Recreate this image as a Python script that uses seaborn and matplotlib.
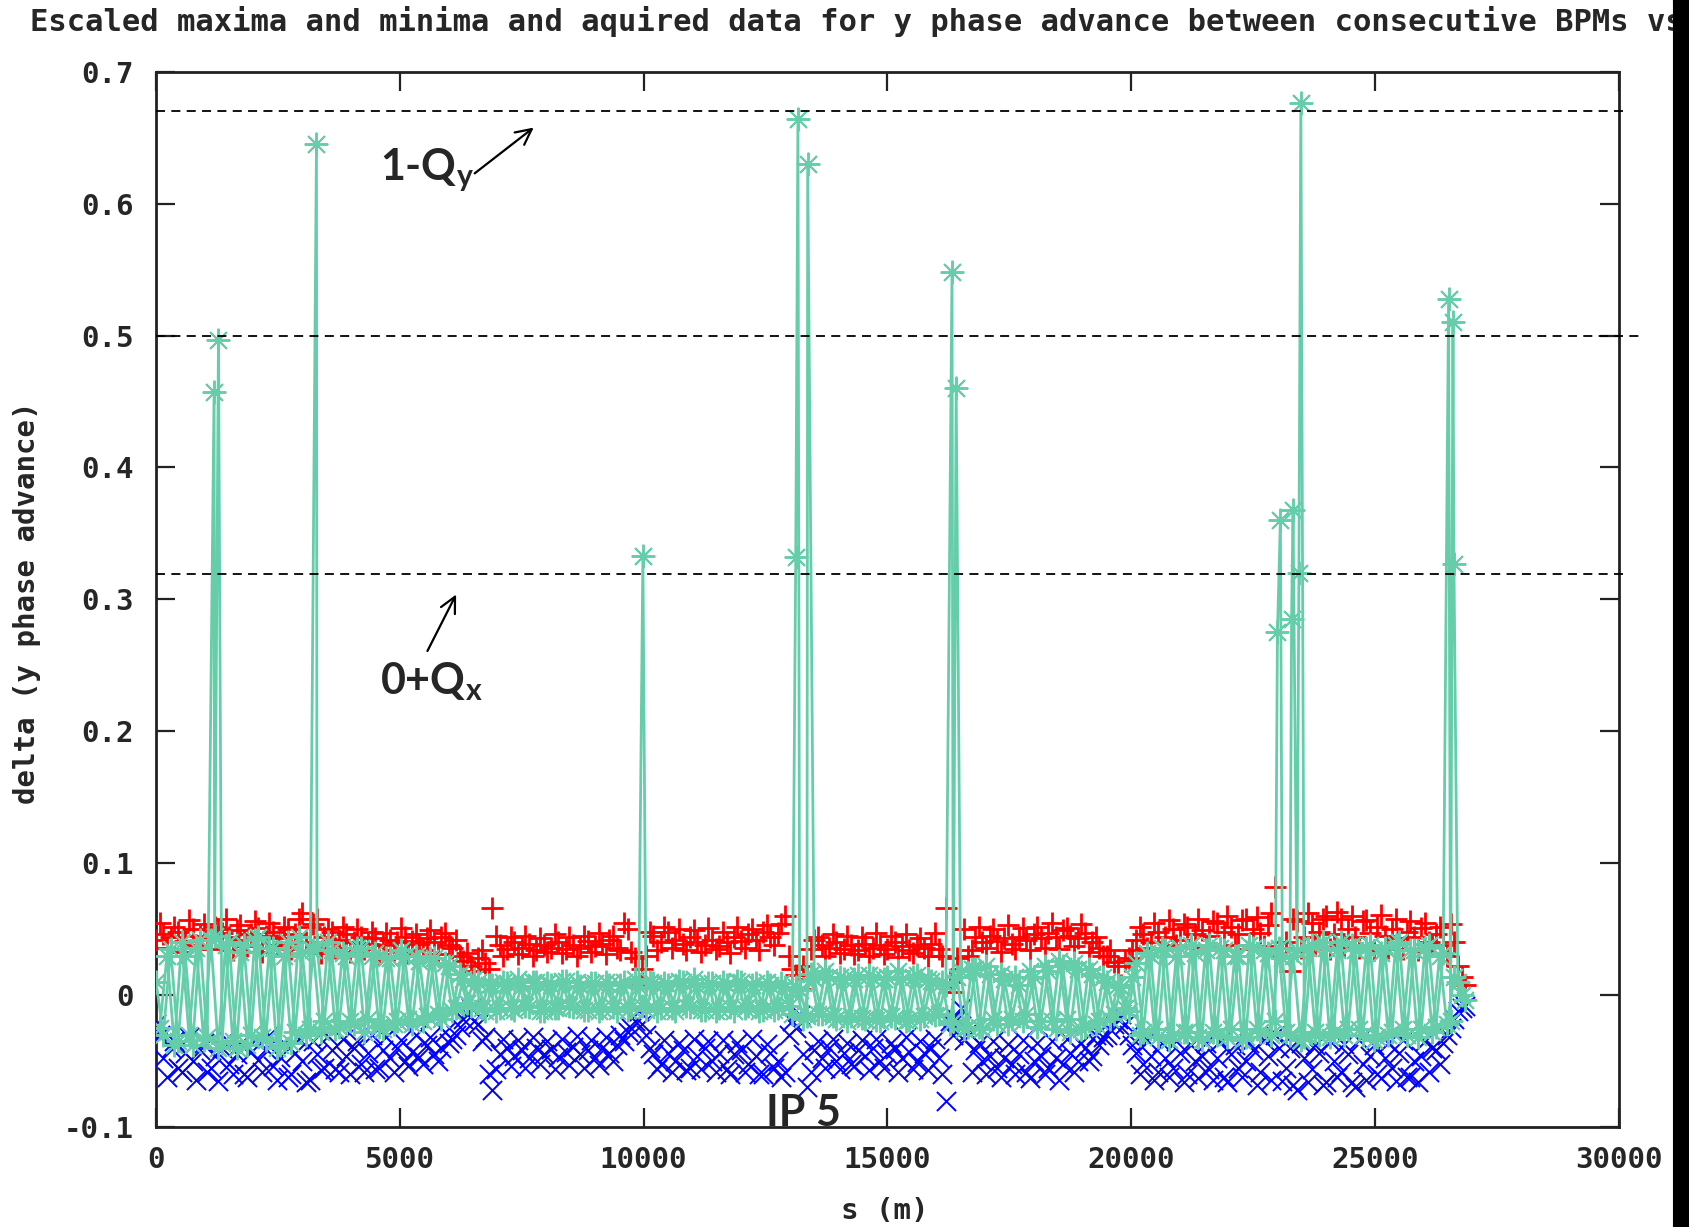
import numpy as np
import pandas as pd
import seaborn as sns
import matplotlib.pyplot as plt
from matplotlib.ticker import FuncFormatter

# BPM positions along the ring (m), first set
s_pos = [
    0, 150, 300, 450, 600, 750, 900, 1050, 1200, 1350, 1500, 1650,
    1800, 1950, 2100, 2250, 2400, 2550, 2700, 2850, 3000, 3150, 3300, 3450,
    3600, 3750, 3900, 4050, 4200, 4350, 4500, 4650, 4800, 4950, 5100, 5250,
    5400, 5550, 5700, 5850, 6000, 6150, 6300, 6450, 6600, 6750, 6900, 7050,
    7200, 7350, 7500, 7650, 7800, 7950, 8100, 8250, 8400, 8550, 8700, 8850,
    9000, 9150, 9300, 9450, 9600, 9750, 9900, 10050, 10200, 10350, 10500, 10650,
    10800, 10950, 11100, 11250, 11400, 11550, 11700, 11850, 12000, 12150, 12300, 12450,
    12600, 12750, 12900, 13050, 13200, 13350, 13500, 13650, 13800, 13950, 14100, 14250,
    14400, 14550, 14700, 14850, 15000, 15150, 15300, 15450, 15600, 15750, 15900, 16050,
    16200, 16350, 16500, 16650, 16800, 16950, 17100, 17250, 17400, 17550, 17700, 17850,
    18000, 18150, 18300, 18450, 18600, 18750, 18900, 19050, 19200, 19350, 19500, 19650,
    19800, 19950, 20100, 20250, 20400, 20550, 20700, 20850, 21000, 21150, 21300, 21450,
    21600, 21750, 21900, 22050, 22200, 22350, 22500, 22650, 22800, 22950, 23100, 23250,
    23400, 23550, 23700, 23850, 24000, 24150, 24300, 24450, 24600, 24750, 24900, 25050,
    25200, 25350, 25500, 25650, 25800, 25950, 26100, 26250, 26400, 26550, 26700, 26850,
]

# BPM positions (m), second set (in between the first)
s_pos_b = [
    75, 225, 375, 525, 675, 825, 975, 1125, 1275, 1425, 1575, 1725,
    1875, 2025, 2175, 2325, 2475, 2625, 2775, 2925, 3075, 3225, 3375, 3525,
    3675, 3825, 3975, 4125, 4275, 4425, 4575, 4725, 4875, 5025, 5175, 5325,
    5475, 5625, 5775, 5925, 6075, 6225, 6375, 6525, 6675, 6825, 6975, 7125,
    7275, 7425, 7575, 7725, 7875, 8025, 8175, 8325, 8475, 8625, 8775, 8925,
    9075, 9225, 9375, 9525, 9675, 9825, 9975, 10125, 10275, 10425, 10575, 10725,
    10875, 11025, 11175, 11325, 11475, 11625, 11775, 11925, 12075, 12225, 12375, 12525,
    12675, 12825, 12975, 13125, 13275, 13425, 13575, 13725, 13875, 14025, 14175, 14325,
    14475, 14625, 14775, 14925, 15075, 15225, 15375, 15525, 15675, 15825, 15975, 16125,
    16275, 16425, 16575, 16725, 16875, 17025, 17175, 17325, 17475, 17625, 17775, 17925,
    18075, 18225, 18375, 18525, 18675, 18825, 18975, 19125, 19275, 19425, 19575, 19725,
    19875, 20025, 20175, 20325, 20475, 20625, 20775, 20925, 21075, 21225, 21375, 21525,
    21675, 21825, 21975, 22125, 22275, 22425, 22575, 22725, 22875, 23025, 23175, 23325,
    23475, 23625, 23775, 23925, 24075, 24225, 24375, 24525, 24675, 24825, 24975, 25125,
    25275, 25425, 25575, 25725, 25875, 26025, 26175, 26325, 26475, 26625, 26775,
]

# escaled maxima, units of 1e-3
maxima = [
    42, 46, 44, 48, 41, 50, 45, 43, 52, 47, 44, 49,
    42, 46, 51, 45, 48, 43, 50, 46, 62, 52, 58, 44,
    48, 42, 46, 40, 44, 39, 43, 38, 42, 40, 44, 41,
    39, 43, 40, 44, 38, 42, 26, 22, 28, 24, 66, 38,
    35, 40, 36, 39, 34, 38, 36, 40, 35, 38, 36, 41,
    37, 39, 42, 36, 55, 33, 8, 30, 45, 40, 48, 42,
    39, 44, 40, 38, 42, 37, 40, 44, 41, 46, 42, 48,
    44, 47, 60, 20, 5, 12, 42, 38, 36, 40, 35, 38,
    34, 39, 36, 38, 35, 40, 37, 34, 38, 36, 39, 35,
    66, 2, 20, 30, 44, 40, 45, 41, 43, 39, 44, 42,
    46, 43, 47, 44, 49, 45, 43, 47, 40, 36, 30, 25,
    8, 28, 42, 46, 40, 48, 44, 50, 42, 52, 46, 49,
    45, 55, 48, 52, 46, 58, 50, 47, 53, 82, 30, 18,
    56, 44, 55, 48, 60, 46, 58, 50, 44, 56, 47, 52,
    45, 50, 43, 48, 44, 51, 40, 46, 38, 54, 22, 8,
]
maxima_b = [
    55, 36, 52, 33, 57, 38, 54, 35, 50, 58, 34, 53,
    37, 56, 33, 55, 38, 52, 35, 58, 40, 54, 32, 50,
    36, 52, 33, 50, 35, 48, 31, 47, 34, 51, 32, 46,
    34, 49, 31, 47, 36, 30, 32, 18, 34, 20, 45, 30,
    44, 31, 45, 30, 43, 33, 46, 32, 44, 30, 45, 33,
    47, 31, 45, 34, 50, 28, 20, 48, 34, 52, 36, 50,
    34, 49, 33, 51, 35, 48, 32, 52, 36, 50, 34, 53,
    38, 54, 30, 15, 22, 35, 44, 30, 46, 32, 45, 31,
    44, 30, 47, 31, 45, 29, 46, 32, 43, 30, 47, 30,
    10, 28, 50, 34, 52, 36, 50, 33, 53, 35, 51, 34,
    52, 36, 55, 35, 51, 37, 54, 33, 44, 30, 34, 22,
    26, 34, 52, 36, 55, 35, 57, 38, 54, 36, 58, 37,
    56, 36, 60, 38, 57, 35, 59, 37, 62, 36, 40, 58,
    36, 62, 38, 58, 35, 63, 37, 60, 36, 57, 34, 61,
    36, 58, 35, 56, 34, 55, 37, 52, 30, 40, 14,
]

# escaled minima, units of 1e-3
minima = [
    -22, -48, -40, -55, -44, -50, -42, -58, -46, -40, -52, -45,
    -60, -43, -49, -41, -54, -47, -62, -44, -50, -64, -45, -55,
    -42, -58, -46, -40, -52, -44, -56, -42, -48, -40, -50, -43,
    -47, -38, -45, -40, -36, -30, -18, -10, -22, -32, -72, -45,
    -40, -46, -42, -48, -40, -45, -41, -47, -43, -39, -45, -42,
    -48, -40, -44, -38, -35, -25, -12, -30, -45, -52, -44, -50,
    -42, -55, -46, -40, -50, -44, -56, -45, -42, -52, -46, -60,
    -44, -50, -58, -20, -15, -70, -42, -48, -40, -50, -44, -52,
    -42, -46, -40, -50, -45, -41, -48, -43, -51, -44, -40, -48,
    -80, -30, -10, -28, -42, -50, -46, -55, -48, -52, -45, -58,
    -50, -46, -55, -48, -52, -44, -50, -40, -46, -38, -30, -22,
    -14, -30, -44, -52, -46, -58, -48, -55, -44, -60, -50, -46,
    -56, -48, -62, -45, -55, -50, -42, -58, -46, -30, -65, -40,
    -72, -48, -56, -44, -66, -50, -58, -45, -70, -52, -46, -60,
    -48, -55, -44, -62, -50, -46, -58, -42, -36, -25, -12, -8,
]
minima_b = [
    -30, -62, -35, -58, -32, -64, -36, -55, -65, -33, -60, -37,
    -62, -34, -58, -30, -64, -36, -60, -33, -66, -35, -57, -31,
    -56, -33, -60, -35, -58, -30, -55, -32, -58, -34, -54, -30,
    -52, -32, -50, -28, -33, -24, -14, -20, -35, -60, -56, -33,
    -54, -34, -55, -32, -52, -35, -56, -33, -53, -31, -55, -34,
    -53, -32, -50, -30, -28, -20, -22, -40, -56, -34, -58, -36,
    -57, -33, -56, -35, -58, -34, -60, -36, -58, -33, -60, -37,
    -55, -62, -30, -25, -45, -58, -35, -55, -33, -56, -36, -54,
    -34, -57, -33, -55, -36, -58, -32, -56, -35, -57, -33, -60,
    -20, -18, -34, -58, -36, -60, -35, -62, -37, -60, -34, -63,
    -36, -60, -35, -64, -33, -58, -36, -50, -30, -32, -26, -18,
    -22, -38, -60, -34, -64, -36, -62, -35, -66, -38, -63, -36,
    -64, -35, -66, -38, -62, -36, -68, -34, -64, -40, -55, -68,
    -36, -66, -38, -68, -35, -62, -37, -66, -34, -64, -38, -63,
    -36, -65, -34, -62, -66, -35, -40, -52, -30, -18, -10,
]

# acquired data, two acquisitions, units of 1e-3
acquired = [
    10, -30, 35, -35, 30, -38, 42, -32, 45, -36, 40, -40,
    38, -30, 44, -34, 36, -38, 40, -28, 32, -26, 38, -20,
    34, -24, 30, -22, 36, -18, 32, -26, 28, -20, 30, -22,
    26, -16, 28, -18, 22, -10, 12, -8, 10, -12, 8, -10,
    9, -11, 7, -9, 10, -12, 8, -10, 11, -9, 7, -11,
    9, -10, 8, -12, 10, -9, 6, -11, 9, -10, 8, -12,
    10, -9, 7, -11, 9, -10, 8, -12, 10, -8, 9, -11,
    8, -10, 6, -14, 4, -16, 12, -14, 14, -18, 12, -16,
    15, -18, 13, -20, 14, -17, 12, -19, 15, -16, 11, -14,
    8, -20, 18, -24, 20, -26, 16, -22, 12, -18, 8, -14,
    14, -20, 18, -26, 22, -28, 20, -24, 16, -20, 10, -14,
    6, -12, 24, -28, 30, -32, 34, -30, 36, -28, 32, -34,
    38, -30, 34, -26, 30, -32, 36, -28, 32, -20, 28, -30,
    34, -32, 38, -30, 36, -28, 40, -26, 34, -30, 38, -32,
    36, -28, 40, -30, 34, -26, 38, -24, 32, -20, 10, -4,
]
acquired_b = [
    -25, 30, -38, 40, -30, 36, -34, 42, -40, 38, -35, 33,
    -38, 42, -32, 36, -40, 30, -36, 44, -30, 34, -28, 40,
    -26, 32, -20, 36, -28, 30, -24, 28, -22, 34, -18, 30,
    -20, 28, -14, 24, -12, 16, -6, 12, -10, 8, -12, 10,
    -10, 12, -8, 10, -12, 9, -10, 11, -8, 10, -11, 9,
    -12, 10, -9, 8, -11, 12, -8, 10, -12, 9, -10, 11,
    -8, 12, -11, 9, -12, 10, -9, 11, -10, 8, -12, 10,
    -11, 9, -8, 6, -18, 16, -14, 18, -16, 14, -20, 12,
    -17, 15, -19, 12, -16, 18, -20, 14, -18, 12, -15, 10,
    -22, 14, -26, 20, -24, 22, -18, 16, -22, 14, -20, 18,
    -24, 22, -20, 26, -18, 24, -26, 20, -22, 14, -18, 8,
    -10, 14, -30, 32, -26, 36, -34, 30, -28, 38, -32, 34,
    -28, 36, -32, 30, -34, 38, -26, 34, -30, 36, -28, 30,
    -34, 36, -28, 40, -32, 34, -30, 38, -26, 36, -34, 32,
    -30, 38, -26, 34, -32, 36, -28, 30, -22, 14, 0,
]

# isolated BPMs with large phase advance
spike_s = [1190, 1280, 3290, 9985, 13120, 13165, 13365, 16325, 16410,
           23000, 23060, 23290, 23320, 23440, 23480, 26510, 26600, 26620]
spike_val = [0.457, 0.497, 0.645, 0.333, 0.332, 0.664, 0.630, 0.548, 0.460,
             0.275, 0.360, 0.285, 0.368, 0.320, 0.676, 0.528, 0.510, 0.327]

ref_lines = [0.67, 0.5, 0.319]
ref_ends = [30110, 30490, 30110]

band = pd.concat([
    pd.DataFrame({'s': s_pos, 'max': maxima, 'min': minima}),
    pd.DataFrame({'s': s_pos_b, 'max': maxima_b, 'min': minima_b}),
])
band['max'] = band['max'] / 1000.0
band['min'] = band['min'] / 1000.0

acq1 = pd.concat([pd.DataFrame({'s': s_pos, 'val': np.array(acquired) / 1000.0}),
                  pd.DataFrame({'s': spike_s, 'val': spike_val})]).sort_values('s')
acq2 = pd.DataFrame({'s': s_pos_b, 'val': np.array(acquired_b) / 1000.0})

sns.set_style('ticks')
mono = 'DejaVu Sans Mono'
plt.rcParams['mathtext.fontset'] = 'custom'
plt.rcParams['mathtext.rm'] = 'Lato:bold'
plt.rcParams['mathtext.it'] = 'Lato:bold'

fig = plt.figure(figsize=(16.89, 12.27), dpi=100)
ax = fig.add_axes([0.0924, 0.0815, 0.866, 0.86])

green = '#66cdaa'
sns.scatterplot(data=band, x='s', y='max', marker='+', s=260, color='#ff0000',
                linewidth=2.0, ax=ax, zorder=3)
sns.scatterplot(data=band, x='s', y='min', marker='x', s=190, color='#0000ff',
                linewidth=1.4, ax=ax, zorder=3)
for acq in (acq2, acq1):
    sns.lineplot(data=acq, x='s', y='val', estimator=None, sort=False, color=green,
                 lw=2.0, marker=(8, 2, 0), markersize=17, mew=1.4, mec=green,
                 ax=ax, zorder=4)

for yv, xe in zip(ref_lines, ref_ends):
    ax.plot([0, xe], [yv, yv], color='black', lw=1.3, ls=(0, (5, 3.5)),
            clip_on=False, zorder=5)

ax.annotate('', xy=(7790, 0.659), xytext=(6490, 0.6217),
            arrowprops=dict(arrowstyle='->', lw=1.6, color='black', mutation_scale=28))
ax.annotate('', xy=(6180, 0.3056), xytext=(5540, 0.259),
            arrowprops=dict(arrowstyle='->', lw=1.6, color='black', mutation_scale=28))
ax.text(4593, 0.6176, r'1-Q$_\mathrm{y}$', fontsize=31, fontfamily='Lato',
        fontweight='bold', ha='left', va='baseline', zorder=6)
ax.text(4593, 0.228, r'0+Q$_\mathrm{x}$', fontsize=31, fontfamily='Lato',
        fontweight='bold', ha='left', va='baseline', zorder=6)
ax.text(12500, -0.0989, 'IP 5', fontsize=31, fontfamily='Lato',
        fontweight='bold', ha='left', va='baseline', zorder=6)

ax.set_xlim(0, 30000)
ax.set_ylim(-0.1, 0.7)
ax.set_xticks(np.arange(0, 30001, 5000))
ax.set_yticks(np.round(np.arange(-0.1, 0.71, 0.1), 1))
ax.yaxis.set_major_formatter(FuncFormatter(lambda v, p: f'{round(v, 1):g}'))
ax.tick_params(direction='in', length=14, width=1.6, top=True, right=True,
               labelsize=21, color='#222222')
ax.tick_params(axis='y', pad=16)
ax.tick_params(axis='x', pad=14)
for lab in ax.get_xticklabels() + ax.get_yticklabels():
    lab.set_fontfamily(mono)
    lab.set_fontweight('bold')
for sp in ax.spines.values():
    sp.set_visible(True)
    sp.set_linewidth(2.0)
    sp.set_color('#222222')
ax.set_xlabel('')
ax.set_ylabel('')

fig.text(30 / 1689, 1 - 21.5 / 1227,
         'Escaled maxima and minima and aquired data for y phase advance between consecutive BPMs vs s',
         fontsize=22, fontfamily=mono, fontweight='bold', ha='left', va='center')
fig.text(885 / 1689, 1 - 1211 / 1227, 's (m)', fontsize=21, fontfamily=mono,
         fontweight='bold', ha='center', va='center')
fig.text(27 / 1689, 1 - 603 / 1227, 'delta (y phase advance)', fontsize=21,
         fontfamily=mono, fontweight='bold', rotation=90, ha='center', va='center')

# dark strip along the right edge of the original screenshot
strip = fig.add_axes([1673 / 1689, 0, 16 / 1689, 1])
strip.set_facecolor('black')
strip.set_xticks([])
strip.set_yticks([])
for sp in strip.spines.values():
    sp.set_color('black')
strip.set_zorder(20)

fig.savefig('out.png', dpi=100)
